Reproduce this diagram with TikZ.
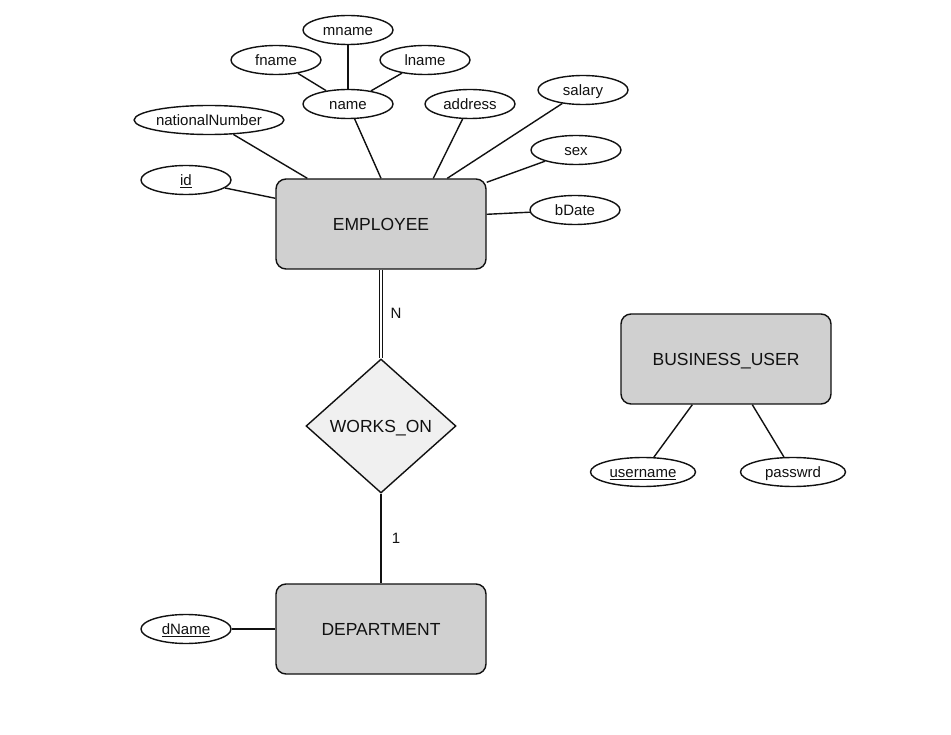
\documentclass[tikz,border=0pt]{standalone}
\usepackage{fontspec}
\setmainfont{Liberation Sans}
\usetikzlibrary{shapes.geometric,calc}
\definecolor{entfill}{HTML}{D0D0D0}
\definecolor{relfill}{HTML}{F0F0F0}
\definecolor{ink}{HTML}{111111}
\tikzset{
  entity/.style={draw=ink, fill=entfill, rounded corners=10pt, minimum width=210pt, minimum height=90pt, line width=1.4pt, font=\fontsize{17.5}{20}\selectfont, text=ink, text height=12.5pt, text depth=0pt},
  attr/.style={draw=ink, fill=white, ellipse, inner sep=0pt, minimum width=90pt, minimum height=29pt, line width=1.4pt, font=\fontsize{15}{18}\selectfont, text=ink, text height=10.7pt, text depth=0pt},
  rel/.style={draw=ink, fill=relfill, diamond, inner sep=0pt, minimum width=150pt, minimum height=134pt, line width=1.4pt, font=\fontsize{17.5}{20}\selectfont, text=ink, text height=12.5pt, text depth=0pt},
  conn/.style={draw=ink, line width=1.4pt},
  card/.style={font=\fontsize{15}{18}\selectfont, text=ink}
}
\begin{document}
\begin{tikzpicture}[x=1pt,y=-1pt]
\useasboundingbox[fill=white] (0,0) rectangle (951,735);
% entities
\node[entity] (emp) at (381,224) {EMPLOYEE};
\node[entity] (dept) at (381,629) {DEPARTMENT};
\node[entity] (bu) at (726,359) {BUSINESS\_USER};
\node[rel] (works) at (381,426) {WORKS\_ON};
% attributes
\node[attr] (mname) at (348,30) {mname};
\node[attr] (fname) at (276,60) {fname};
\node[attr] (lname) at (425,60) {lname};
\node[attr] (name) at (348,104) {name};
\node[attr] (address) at (470,104) {address};
\node[attr] (salary) at (583,90) {salary};
\node[attr, minimum width=136pt] (natl) at (209,120) {nationalNumber};
\node[attr] (sex) at (576,150) {sex};
\node[attr] (id) at (186,180) {\underline{id}};
\node[attr] (bdate) at (575,210) {bDate};
\node[attr] (dname) at (186,629) {\underline{dName}};
\node[attr, minimum width=105pt] (user) at (643,472) {\underline{username}};
\node[attr, minimum width=105pt] (pass) at (793,472) {passwrd};
% anchor points on entity borders
\coordinate (eNat) at ($(emp.north west)+(32,0)$);
\coordinate (eAdd) at ($(emp.north west)+(158,0)$);
\coordinate (eSal) at ($(emp.north west)+(172,0)$);
\coordinate (eSex) at ($(emp.north east)+(0,4)$);
\coordinate (eBd) at ($(emp.north east)+(0,36)$);
\coordinate (eId) at ($(emp.north west)+(0,20)$);
\coordinate (bUser) at ($(bu.south west)+(72,0)$);
\coordinate (bPass) at ($(bu.south west)+(132,0)$);
% connectors
\draw[conn] (mname) -- (name);
\draw[conn] (fname) -- (name);
\draw[conn] (lname) -- (name);
\draw[conn] (name) -- (emp.north);
\draw[conn] (natl) -- (eNat);
\draw[conn] (address) -- (eAdd);
\draw[conn] (salary) -- (eSal);
\draw[conn] (sex) -- (eSex);
\draw[conn] (bdate) -- (eBd);
\draw[conn] (id) -- (eId);
\draw[conn] (dname) -- (dept);
\draw[conn] (user) -- (bUser);
\draw[conn] (pass) -- (bPass);
\draw[draw=ink, line width=1.3pt, double=white, double distance=2.2pt] (emp.south) -- (works.north);
\draw[conn] (works.south) -- (dept.north);
% cardinalities
\node[card] (cN) at (396,313) {N};
\node[card] (c1) at (396,538) {1};
\end{tikzpicture}
\end{document}
